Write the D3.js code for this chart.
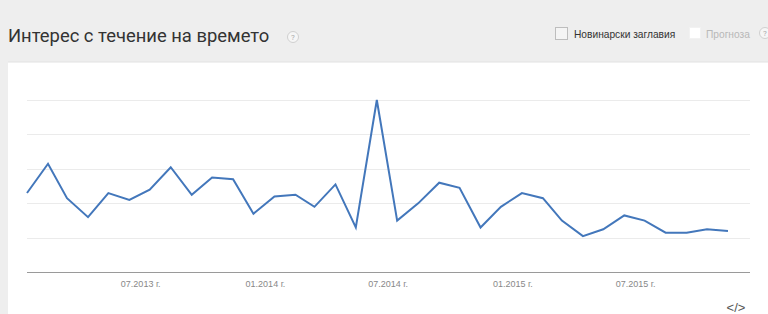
<!DOCTYPE html>
<html>
<head>
<meta charset="utf-8">
<script src="https://cdn.jsdelivr.net/npm/d3@7"></script>
<style>
  html, body { margin: 0; padding: 0; background: #eeeeee; }
  svg { display: block; }
</style>
</head>
<body>
<div id="chart"></div>
<script>
// monthly interest, Jan 2013 .. Nov 2015
const startMonth = [2013, 0];
const interest = [46, 63, 43, 32, 46, 42, 48, 61, 45, 55, 54, 34,
                  44, 45, 38, 51, 26, 100, 30, 40, 52, 49, 26, 38,
                  46, 43, 30, 21, 25, 33, 30, 23, 23, 25, 24];
const tickMonths = [[2013, 6], [2014, 0], [2014, 6], [2015, 0], [2015, 6]];
const gridValues = [20, 40, 60, 80, 100];
const titleText = "Интерес с течение на времето";
const newsLabel = "Новинарски заглавия";
const forecastLabel = "Прогноза";

const width = 768, height = 314;
const data = interest.map((v, i) => ({
  date: new Date(startMonth[0], startMonth[1] + i, 15),
  value: v
}));

const svg = d3.select("#chart").append("svg")
  .attr("width", width)
  .attr("height", height)
  .style("font-family", "Roboto, Arial, sans-serif");

// white panel
svg.append("rect")
  .attr("x", 8).attr("y", 62)
  .attr("width", width - 8).attr("height", height - 62)
  .attr("fill", "#ffffff");
svg.append("line")
  .attr("x1", 8).attr("x2", width)
  .attr("y1", 62).attr("y2", 62)
  .attr("stroke", "#e2e2e2");

// header
svg.append("text")
  .attr("x", 8).attr("y", 42)
  .attr("font-size", 18.4)
  .attr("fill", "#333")
  .text(titleText);

function helpIcon(cx, cy) {
  svg.append("circle")
    .attr("cx", cx).attr("cy", cy).attr("r", 5.5)
    .attr("fill", "#f6f6f6").attr("stroke", "#d0d0d0");
  svg.append("text")
    .attr("x", cx).attr("y", cy + 3)
    .attr("text-anchor", "middle")
    .attr("font-size", 8).attr("fill", "#aaa")
    .text("?");
}
helpIcon(293, 37);

svg.append("rect")
  .attr("x", 555.5).attr("y", 27.5).attr("width", 12).attr("height", 12)
  .attr("fill", "#f4f4f4").attr("stroke", "#bdbdbd");
svg.append("text")
  .attr("x", 574).attr("y", 37.5)
  .attr("font-family", "Arial, 'Liberation Sans', sans-serif")
  .attr("font-size", 10.2).attr("fill", "#333")
  .text(newsLabel);
svg.append("rect")
  .attr("x", 689.5).attr("y", 27.5).attr("width", 11).attr("height", 11)
  .attr("fill", "#ffffff").attr("stroke", "#f2f2f2");
svg.append("text")
  .attr("x", 706).attr("y", 37.5)
  .attr("font-family", "Arial, 'Liberation Sans', sans-serif")
  .attr("font-size", 10.2).attr("fill", "#b8b8b8")
  .text(forecastLabel);
helpIcon(765, 33);

// plot
const x = d3.scaleTime()
  .domain(d3.extent(data, d => d.date))
  .range([27, 728]);
const y = d3.scaleLinear()
  .domain([0, 100])
  .range([272.3, 100]);

svg.append("g")
  .selectAll("line")
  .data(gridValues)
  .join("line")
  .attr("x1", 27).attr("x2", 750)
  .attr("y1", d => Math.round(y(d)) + 0.5)
  .attr("y2", d => Math.round(y(d)) + 0.5)
  .attr("stroke", "#ebebeb");

const ticks = tickMonths.map(m => new Date(m[0], m[1], 1));
const xAxis = d3.axisBottom(x)
  .tickValues(ticks)
  .tickSize(0)
  .tickPadding(8)
  .tickFormat(d3.timeFormat("%m.%Y г."));
const axisG = svg.append("g")
  .attr("transform", `translate(0,${Math.round(y(0)) + 0.5})`)
  .call(xAxis);
axisG.select(".domain").remove();
axisG.append("line")
  .attr("x1", 27).attr("x2", 750)
  .attr("stroke", "#9a9a9a");
axisG.selectAll("text")
  .attr("font-family", "Arial, 'Liberation Sans', sans-serif")
  .attr("font-size", 9)
  .attr("fill", "#888");

const line = d3.line()
  .x(d => x(d.date))
  .y(d => y(d.value));

svg.append("path")
  .datum(data)
  .attr("fill", "none")
  .attr("stroke", "#4377bb")
  .attr("stroke-width", 2)
  .attr("stroke-linejoin", "miter")
  .attr("d", line);

// embed icon
svg.append("text")
  .attr("x", 736).attr("y", 312)
  .attr("text-anchor", "middle")
  .attr("font-family", "Arial, 'Liberation Sans', sans-serif")
  .attr("font-size", 13).attr("fill", "#555")
  .text("</>");
</script>
</body>
</html>
